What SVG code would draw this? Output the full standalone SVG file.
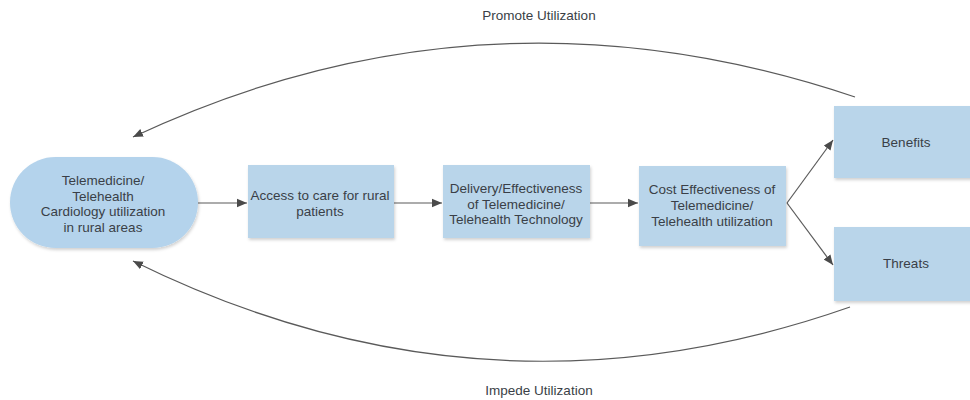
<svg xmlns="http://www.w3.org/2000/svg" width="970" height="400" viewBox="0 0 970 400">
  <defs>
    <style>
      .node { fill: #b9d5ea; }
      .lbl { font-family: "Liberation Sans", Arial, sans-serif; font-size: 13.5px; fill: #3a3f47; text-anchor: middle; }
      .edge { fill: none; stroke: #5a5a5a; stroke-width: 1.2; }
    </style>
    <marker id="arr" viewBox="0 0 10 10" refX="10" refY="5" markerWidth="10" markerHeight="10" markerUnits="userSpaceOnUse" orient="auto">
      <path d="M0,0.8 L10,5 L0,9.2 z" fill="#4a4a4a"/>
    </marker>
    <filter id="sh" x="-10%" y="-10%" width="120%" height="130%">
      <feDropShadow dx="1" dy="2" stdDeviation="1.5" flood-color="#000" flood-opacity="0.18"/>
    </filter>
  </defs>
  <rect width="970" height="400" fill="#ffffff"/>

  <g id="connectors">
    <path class="edge" d="M198,203 L247,203" marker-end="url(#arr)"/>
    <path class="edge" d="M394,203 L442,203" marker-end="url(#arr)"/>
    <path class="edge" d="M590,203 L638,203" marker-end="url(#arr)"/>
    <path class="edge" d="M787,203 L833,140" marker-end="url(#arr)"/>
    <path class="edge" d="M787,203 L833,265" marker-end="url(#arr)"/>
    <path class="edge" d="M855,97 Q484,-28 133,137" marker-end="url(#arr)"/>
    <path class="edge" d="M850,307 Q485,435 133,261" marker-end="url(#arr)"/>
    <text class="lbl" x="539" y="20">Promote Utilization</text>
    <text class="lbl" x="539" y="395">Impede Utilization</text>
  </g>

  <g id="n-telemedicine">
    <rect class="node" x="10" y="157" width="188" height="91" rx="45.5" filter="url(#sh)" style="fill:#b4d3ec"/>
    <text class="lbl" x="103" y="185">Telemedicine/</text>
    <text class="lbl" x="103" y="200.5">Telehealth</text>
    <text class="lbl" x="103" y="216">Cardiology utilization</text>
    <text class="lbl" x="103" y="231.5">in rural areas</text>
  </g>

  <g id="n-access">
    <rect class="node" x="248" y="165" width="146" height="73" filter="url(#sh)"/>
    <text class="lbl" x="320" y="200">Access to care for rural</text>
    <text class="lbl" x="320" y="216">patients</text>
  </g>

  <g id="n-delivery">
    <rect class="node" x="443" y="165" width="147" height="73" filter="url(#sh)"/>
    <text class="lbl" x="516" y="193">Delivery/Effectiveness</text>
    <text class="lbl" x="516" y="208.5">of Telemedicine/</text>
    <text class="lbl" x="516" y="224">Telehealth Technology</text>
  </g>

  <g id="n-cost">
    <rect class="node" x="639" y="166" width="147" height="80" filter="url(#sh)"/>
    <text class="lbl" x="712" y="194">Cost Effectiveness of</text>
    <text class="lbl" x="712" y="210">Telemedicine/</text>
    <text class="lbl" x="712" y="226">Telehealth utilization</text>
  </g>

  <g id="n-benefits">
    <rect class="node" x="834" y="106" width="140" height="72" filter="url(#sh)"/>
    <text class="lbl" x="906" y="147">Benefits</text>
  </g>

  <g id="n-threats">
    <rect class="node" x="834" y="227" width="140" height="74" filter="url(#sh)"/>
    <text class="lbl" x="906" y="268">Threats</text>
  </g>
</svg>
